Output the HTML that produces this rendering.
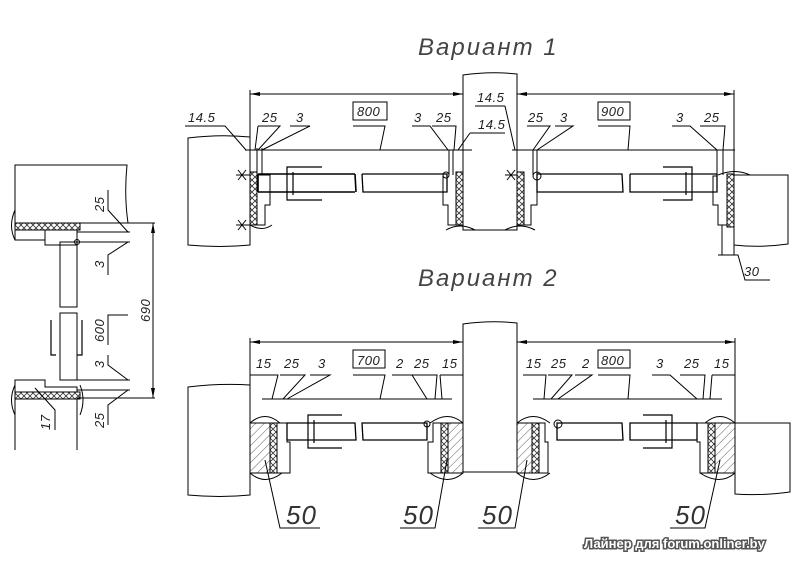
<!DOCTYPE html>
<html><head><meta charset="utf-8"><style>
html,body{margin:0;padding:0;background:#fff;}
svg{display:block;}
text{font-family:"Liberation Sans","DejaVu Sans",sans-serif;font-style:italic;fill:#222;}
.t{font-size:13px;letter-spacing:0.5px;}
.h{font-size:24px;letter-spacing:2px;fill:#444;}
.b{font-size:26px;letter-spacing:1px;fill:#333;}
</style></head><body>
<svg width="800" height="565" viewBox="0 0 800 565" xmlns="http://www.w3.org/2000/svg">
<defs>
<pattern id="hat" width="6" height="6" patternUnits="userSpaceOnUse" patternTransform="rotate(45)"><line x1="0" y1="0" x2="0" y2="6" stroke="#333" stroke-width="0.8"/></pattern>
<pattern id="xx" width="6" height="6" patternUnits="userSpaceOnUse"><path d="M0 0L6 6M6 0L0 6" stroke="#333" stroke-width="0.8"/></pattern>
<marker id="ar" markerWidth="10" markerHeight="6" refX="10" refY="3" orient="auto-start-reverse" markerUnits="userSpaceOnUse"><path d="M0 1L10 3L0 5z" fill="#000"/></marker>
</defs>
<g fill="none" stroke="#000" stroke-width="1">

<!-- ===== Variant 1 ===== -->
<text x="418" y="55" class="h" stroke="none">Вариант 1</text>
<path d="M188 138 Q220 134 250 137 L250 245 Q220 248 188 245 Z" fill="#fff"/>
<path d="M463 75 Q490 71 517 74 L517 230 L463 230 Z"/>
<path d="M734 175 L788 175 L788 244 Q760 248 734 245 Z"/>
<line x1="250" y1="94" x2="463" y2="94" marker-start="url(#ar)" marker-end="url(#ar)"/>
<line x1="517" y1="94" x2="734" y2="94" marker-start="url(#ar)" marker-end="url(#ar)"/>
<line x1="250" y1="90" x2="250" y2="137"/>
<line x1="734" y1="90" x2="734" y2="175"/>
<line x1="245" y1="150" x2="472" y2="150"/>
<line x1="512" y1="150" x2="735" y2="150"/>
<rect x="250" y="172" width="7" height="53" fill="url(#xx)"/>
<path d="M257 175 L270 175 L270 205 L265 205 L265 225 L257 225"/>
<path d="M257 175 L257 148"/><path d="M262 175 L262 148"/>
<path d="M250 225 Q262 232 272 225"/>
<path d="M258 174 L355 174 M258 192 L355 192 M355 174 L356 192 M258 174 L258 192" stroke-width="1.6"/>
<path d="M362 174 L447 174 L447 192 L363 192 L362 174" stroke-width="1.3"/>
<path d="M322 167 L287 167 L287 200 L322 200 M293 172 L293 195" stroke-width="1.2"/>
<circle cx="446" cy="175" r="3"/>
<path d="M443 176 L443 205 L448 205 L448 225 L456 225 L456 172"/>
<rect x="456" y="172" width="7" height="53" fill="url(#xx)"/>
<path d="M446 230 Q460 222 475 230"/>
<path d="M449 150 L449 175 M453 150 L453 175"/>
<rect x="517" y="172" width="7" height="53" fill="url(#xx)"/>
<path d="M524 172 L524 225 L531 225 L531 205 L537 205 L537 176"/>
<path d="M505 230 Q520 222 535 230"/>
<circle cx="537" cy="176" r="4"/>
<path d="M533 150 L533 175 M537 150 L537 175"/>
<path d="M537 174 L622 174 L623 192 L537 192 Z" stroke-width="1.3"/>
<path d="M630 174 L717 174 L717 192 L630 192 L630 174" stroke-width="1.3"/>
<path d="M663 167 L692 167 L692 200 L663 200 M686 172 L686 195" stroke-width="1.2"/>
<path d="M717 176 L713 176 L713 205 L718 205 L718 225 L727 225 L727 174"/>
<rect x="727" y="174" width="7" height="53" fill="url(#xx)"/>
<path d="M718 175 Q735 168 750 175"/>
<path d="M717 150 L717 175 M723 150 L723 175"/>
<path d="M722 225 L722 255 M734 245 L734 255 M718 255 L738 255 L745 280 L770 280"/>
<text x="744" y="276" class="t" stroke="none">30</text>
<path d="M185 126 L225 126 L246 150"/><text x="188" y="122" class="t" stroke="none">14.5</text>
<path d="M258 126 L280 126 L258 150 M258 126 L255 150"/><text x="262" y="122" class="t" stroke="none">25</text>
<path d="M290 126 L310 126 L262 150"/><text x="296" y="122" class="t" stroke="none">3</text>
<rect x="353" y="102" width="34" height="18"/><text x="357" y="116" class="t" stroke="none">800</text>
<path d="M353 126 L385 126 L380 150"/>
<path d="M412 126 L430 126 L448 150"/><text x="414" y="122" class="t" stroke="none">3</text>
<path d="M432 126 L456 126 L454 150"/><text x="436" y="122" class="t" stroke="none">25</text>
<path d="M475 106 L505 106"/><text x="477" y="102" class="t" stroke="none">14.5</text>
<path d="M470 133 L505 133 M470 133 L458 150"/><text x="478" y="129" class="t" stroke="none">14.5</text>
<path d="M505 106 L515 150"/>
<path d="M527 126 L550 126 L533 150"/><text x="528" y="122" class="t" stroke="none">25</text>
<path d="M555 126 L573 126 L537 150"/><text x="560" y="122" class="t" stroke="none">3</text>
<rect x="598" y="102" width="32" height="18"/><text x="601" y="116" class="t" stroke="none">900</text>
<path d="M598 126 L630 126 L628 150"/>
<path d="M672 126 L690 126 L717 150"/><text x="676" y="122" class="t" stroke="none">3</text>
<path d="M700 126 L725 126 L723 150"/><text x="704" y="122" class="t" stroke="none">25</text>
<path d="M236 175 L250 175 M236 225 L250 225 M238 170 L246 180 M246 170 L238 180 M238 220 L246 230 M246 220 L238 230"/>
<path d="M517 175 L505 175 M507 170 L515 180 M515 170 L507 180"/>

<!-- ===== Side view ===== -->
<path d="M15 165 L127 165 Q124 195 128 223 L15 223 Z"/>
<rect x="15" y="223" width="65" height="7" fill="url(#xx)"/>
<path d="M15 230 L15 240 L45 240 M45 230 L45 245 L77 245 L77 230"/>
<path d="M15 210 Q8 226 15 240"/>
<path d="M60 242 L77 242 L77 307 L60 307 Z M60 313 L77 313 L77 380 L60 380 Z"/>
<path d="M51 320 L51 355 L56 355 M82 320 L82 355 L77 355" stroke-width="1.2"/>
<path d="M15 380 L45 380 L45 387 L77 387 L77 392 L15 392 Z"/>
<rect x="15" y="392" width="65" height="7" fill="url(#xx)"/>
<path d="M15 399 L15 450 M77 399 L77 450"/>
<path d="M15 385 Q8 400 15 415 M80 385 Q86 400 80 415"/>
<circle cx="77" cy="242" r="2.5"/>
<path d="M77 223 L155 223 M77 232 L130 232 M77 242 L130 242 M77 380 L130 380 M77 390 L130 390 M77 398 L155 398"/>
<line x1="153" y1="223" x2="153" y2="398" marker-start="url(#ar)" marker-end="url(#ar)"/>
<path d="M128 232 L108 210 L108 190 M128 242 L108 255 L108 275 M128 380 L108 365 L108 355 M128 390 L108 405 L108 425 M128 315 L108 315 L108 345"/>
<path d="M35 388 L55 410 L55 430"/>
<text transform="translate(104,212) rotate(-90)" class="t" stroke="none">25</text>
<text transform="translate(104,268) rotate(-90)" class="t" stroke="none">3</text>
<text transform="translate(104,342) rotate(-90)" class="t" stroke="none">600</text>
<text transform="translate(104,368) rotate(-90)" class="t" stroke="none">3</text>
<text transform="translate(104,428) rotate(-90)" class="t" stroke="none">25</text>
<text transform="translate(150,322) rotate(-90)" class="t" stroke="none">690</text>
<text transform="translate(50,430) rotate(-90)" class="t" stroke="none">17</text>

<!-- ===== Variant 2 ===== -->
<text x="418" y="286" class="h" stroke="none">Вариант 2</text>
<path d="M188 387 Q220 383 250 385 L250 495 Q220 498 188 495 Z"/>
<path d="M463 324 Q490 320 517 323 L517 472 L463 472 Z"/>
<path d="M735 423 L790 423 L790 492 Q760 496 735 494 Z"/>
<line x1="250" y1="342" x2="463" y2="342" marker-start="url(#ar)" marker-end="url(#ar)"/>
<line x1="517" y1="342" x2="735" y2="342" marker-start="url(#ar)" marker-end="url(#ar)"/>
<line x1="250" y1="338" x2="250" y2="385"/>
<line x1="735" y1="338" x2="735" y2="423"/>
<line x1="262" y1="399" x2="452" y2="399"/>
<line x1="533" y1="399" x2="722" y2="399"/>
<rect x="250" y="423" width="20" height="50" fill="url(#hat)"/>
<rect x="270" y="423" width="7" height="50" fill="url(#xx)"/>
<path d="M277 423 L287 423 L287 442 L290 442 L290 473 L277 473"/>
<path d="M250 423 Q265 410 280 423 M250 473 Q265 486 282 473"/>
<rect x="441" y="423" width="7" height="50" fill="url(#xx)"/>
<rect x="448" y="423" width="15" height="50" fill="url(#hat)"/>
<path d="M441 423 L433 423 L433 442 L428 442 L428 473 L441 473"/>
<path d="M430 423 Q448 410 463 423 M430 473 Q448 486 463 473"/>
<rect x="517" y="423" width="15" height="50" fill="url(#hat)"/>
<rect x="532" y="423" width="7" height="50" fill="url(#xx)"/>
<path d="M539 423 L545 423 L545 442 L548 442 L548 473 L539 473"/>
<path d="M517 423 Q533 410 550 423 M517 473 Q533 486 550 473"/>
<rect x="708" y="423" width="7" height="50" fill="url(#xx)"/>
<rect x="715" y="423" width="20" height="50" fill="url(#hat)"/>
<path d="M708 423 L697 423 L697 442 L700 442 L700 473 L708 473"/>
<path d="M705 423 Q720 410 735 423 M700 473 Q720 486 735 473"/>
<path d="M287 423 L355 423 L356 440 L287 440 Z" stroke-width="1.3"/>
<path d="M362 423 L427 423 L427 440 L363 440 Z" stroke-width="1.3"/>
<path d="M342 415 L308 415 L308 448 L342 448 M314 420 L314 443" stroke-width="1.2"/>
<circle cx="427" cy="424" r="3"/>
<path d="M557 423 L622 423 L623 440 L557 440 Z" stroke-width="1.3"/>
<path d="M630 423 L697 423 L697 440 L630 440 Z" stroke-width="1.3"/>
<path d="M643 415 L672 415 L672 448 L643 448 M666 420 L666 443" stroke-width="1.2"/>
<circle cx="558" cy="424" r="4"/>
<path d="M250 375 L278 375 L272 399"/><text x="256" y="368" class="t" stroke="none">15</text>
<path d="M280 375 L305 375 L283 399"/><text x="284" y="368" class="t" stroke="none">25</text>
<path d="M310 375 L330 375 L287 399"/><text x="318" y="368" class="t" stroke="none">3</text>
<rect x="353" y="350" width="32" height="18"/><text x="357" y="365" class="t" stroke="none">700</text>
<path d="M353 375 L385 375 L380 399"/>
<path d="M392 375 L412 375 L427 399"/><text x="396" y="368" class="t" stroke="none">2</text>
<path d="M412 375 L437 375 L435 399"/><text x="414" y="368" class="t" stroke="none">25</text>
<path d="M440 375 L463 375 M440 375 L442 399"/><text x="442" y="368" class="t" stroke="none">15</text>
<path d="M523 375 L546 375 L544 399"/><text x="526" y="368" class="t" stroke="none">15</text>
<path d="M548 375 L572 375 L551 399"/><text x="551" y="368" class="t" stroke="none">25</text>
<path d="M575 375 L592 375 L558 399"/><text x="582" y="368" class="t" stroke="none">2</text>
<rect x="598" y="350" width="32" height="18"/><text x="601" y="365" class="t" stroke="none">800</text>
<path d="M598 375 L630 375 L628 399"/>
<path d="M652 375 L670 375 L697 399"/><text x="656" y="368" class="t" stroke="none">3</text>
<path d="M680 375 L705 375 L703 399"/><text x="684" y="368" class="t" stroke="none">25</text>
<path d="M712 375 L735 375 M712 375 L710 399"/><text x="714" y="368" class="t" stroke="none">15</text>
<path d="M265 460 L280 528 L320 528"/><text x="286" y="524" class="b" stroke="none">50</text>
<path d="M447 460 L435 528 L400 528"/><text x="403" y="524" class="b" stroke="none">50</text>
<path d="M527 460 L515 528 L478 528"/><text x="482" y="524" class="b" stroke="none">50</text>
<path d="M720 460 L705 528 L670 528"/><text x="675" y="524" class="b" stroke="none">50</text>
</g>
<text x="584" y="548" style="font-family:'Liberation Sans','DejaVu Sans',sans-serif;font-style:normal;font-weight:bold;font-size:13px;fill:#fff;stroke:#555;stroke-width:3px;paint-order:stroke;">Лайнер для forum.onliner.by</text>
</svg>
</body></html>
